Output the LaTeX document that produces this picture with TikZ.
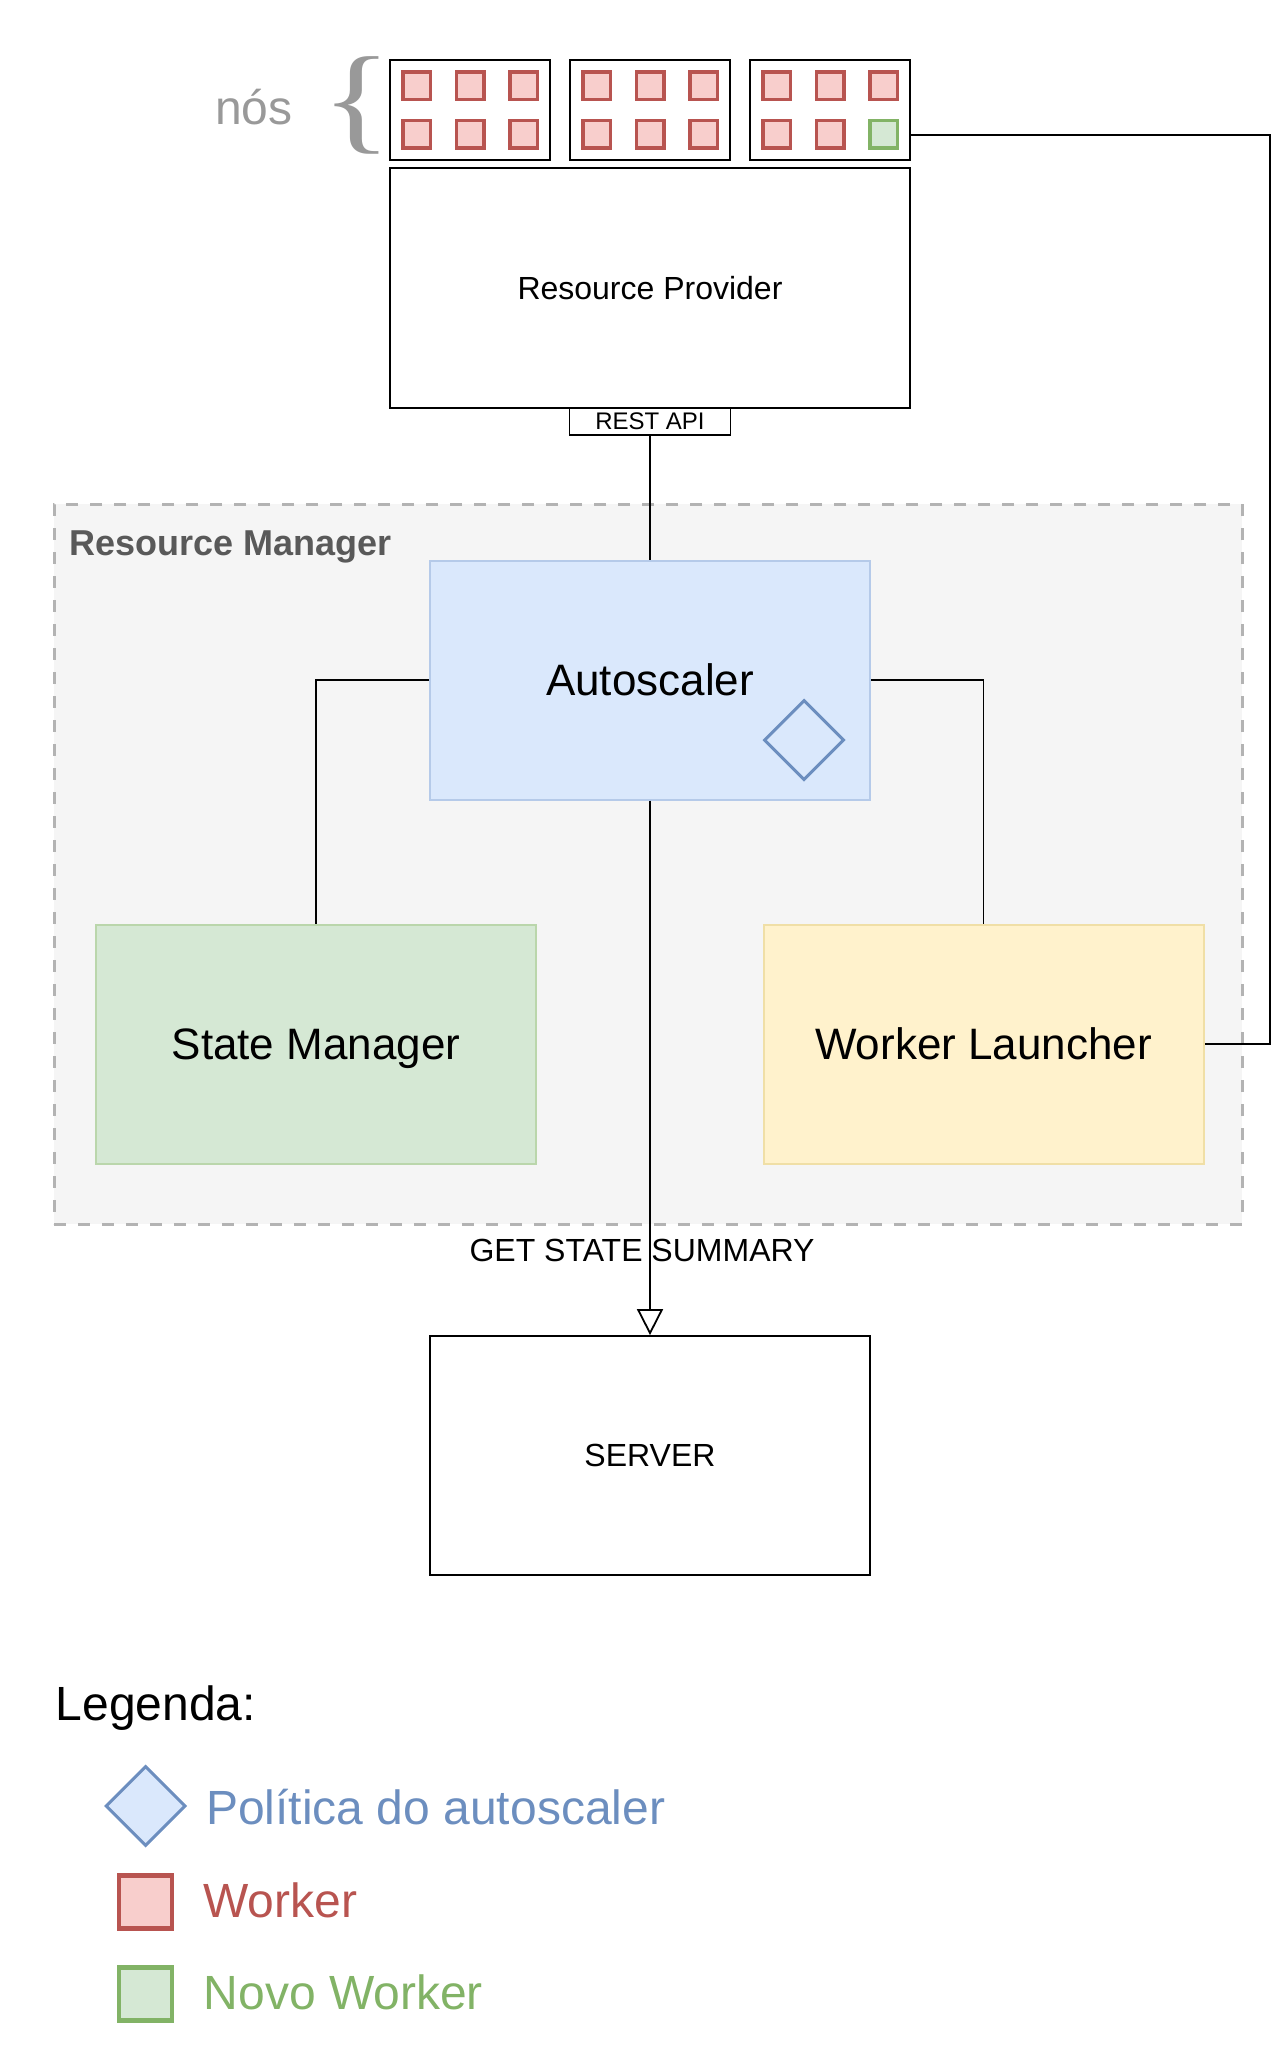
\documentclass[tikz,border=0pt]{standalone}
\usepackage{fontspec}
\setmainfont{Liberation Sans}
\newfontfamily\bracefont{Liberation Serif}
\usetikzlibrary{arrows.meta,positioning,shapes.geometric}
\definecolor{workerred}{HTML}{B85450}
\definecolor{workerfill}{HTML}{F8CECC}
\definecolor{novogreen}{HTML}{82B366}
\definecolor{novofill}{HTML}{D5E8D4}
\definecolor{policyblue}{HTML}{6C8EBF}
\definecolor{policyfill}{HTML}{DAE8FC}
\definecolor{autoline}{HTML}{B5CAE9}
\definecolor{stateline}{HTML}{BAD6AB}
\definecolor{launchfill}{HTML}{FFF2CC}
\definecolor{launchline}{HTML}{F0DFA6}
\definecolor{rmfill}{HTML}{F5F5F5}
\definecolor{rmline}{HTML}{B3B3B3}
\definecolor{rmtext}{HTML}{595959}
\definecolor{nosgray}{HTML}{999999}
\newcommand{\pxfont}[1]{\fontsize{#1}{#1}\selectfont}

\begin{document}
\begin{tikzpicture}[x=1pt,y=-1pt,
      plainbox/.style={draw=black,line width=1.8pt,inner sep=0pt},
      module/.style={line width=2pt,inner sep=0pt,minimum width=440pt,minimum height=239pt,text depth=0pt,font=\pxfont{44}},
      worker/.style={draw=workerred,fill=workerfill,line width=3.5pt,minimum size=27.5pt,inner sep=0pt},
      novoworker/.style={worker,draw=novogreen,fill=novofill},
      policy/.style={diamond,draw=policyblue,fill=policyfill,line width=3pt,minimum size=80pt,inner sep=0pt},
      legtext/.style={anchor=base west,inner sep=0pt,font=\pxfont{48}},
      link/.style={line width=1.8pt}]
      \useasboundingbox (0,0) rectangle (1276,2056);
      % resource manager container
      \node[draw=rmline,fill=rmfill,line width=3pt,dash pattern=on 12pt off 12pt,minimum width=1188pt,minimum height=720pt] (rm) at (648,864) {};
      \node[anchor=west,inner sep=0pt,font=\bfseries\pxfont{36},text=rmtext] (rmlabel) at (69,547) {Resource Manager};
      % nodes with workers
      \node[text=nosgray,font=\pxfont{48}] (nos) at (254,107) {nós};
      \node[text=nosgray,font=\bracefont\pxfont{118}] (brace) at (357,105) {\scalebox{1.25}[1]{\{}};
      \node[plainbox,minimum width=160pt,minimum height=100pt] (nodesA) at (470,110) {};
      \node[plainbox,minimum width=160pt,minimum height=100pt] (nodesB) at (650,110) {};
      \node[plainbox,minimum width=160pt,minimum height=100pt] (nodesC) at (830,110) {};
      \foreach \cx [count=\i] in {470,650,830}
        \foreach \dx [count=\j] in {-53.5,0,53.5} {
          \node[worker] (w\i\j-a) at (\cx+\dx,85.5) {};
          \ifnum\i\j=33
            \node[novoworker] (w\i\j-b) at (\cx+\dx,134) {};
          \else
            \node[worker] (w\i\j-b) at (\cx+\dx,134) {};
          \fi
        }
      \node[plainbox,minimum width=520pt,minimum height=240pt,font=\pxfont{32}] (provider) at (650,288) {Resource Provider};
      \node[plainbox,minimum width=161pt,minimum height=27pt,font=\pxfont{24}] (rest) at (650,421.5) {REST API};
      % modules
      \node[module,fill=policyfill,draw=autoline] (autoscaler) at (650,680) {Autoscaler};
      \node[policy] (policy) at (804,740) {};
      \node[module,fill=novofill,draw=stateline] (statemgr) at (316,1044) {State Manager};
      \node[module,fill=launchfill,draw=launchline] (launcher) at (983.5,1044) {Worker Launcher};
      \node[plainbox,minimum width=440pt,minimum height=239pt,font=\pxfont{32}] (server) at (650,1455.5) {SERVER};
      % connectors
      \draw[link] (rest) -- (autoscaler);
      \draw[link] (autoscaler.west) -| (statemgr.north);
      \draw[link] (autoscaler.east) -| (launcher.north);
      \draw[link,-{Triangle[open,length=26pt,width=26pt]}] (autoscaler) -- (server);
      \node[font=\pxfont{32}] (getlabel) at (642,1250) {GET STATE SUMMARY};
      \draw[link] ([yshift=-25pt]nodesC.east) -- ++(359,0) |- (launcher.east);
      % legend
      \node[legtext] (legend) at (55.5,1720) {Legenda:};
      \node[policy] (legpolicy) at (145.6,1806) {};
      \node[worker,minimum size=53pt,line width=4.5pt] (legworker) at (145.6,1902) {};
      \node[novoworker,minimum size=53pt,line width=4.5pt] (legnovo) at (145.6,1994) {};
      \node[legtext,text=policyblue] (legpolicytext) at (206,1824) {Política do autoscaler};
      \node[legtext,text=workerred] (legworkertext) at (203,1917) {Worker};
      \node[legtext,text=novogreen] (legnovotext) at (203.5,2009) {Novo Worker};
    \end{tikzpicture}
\end{document}
